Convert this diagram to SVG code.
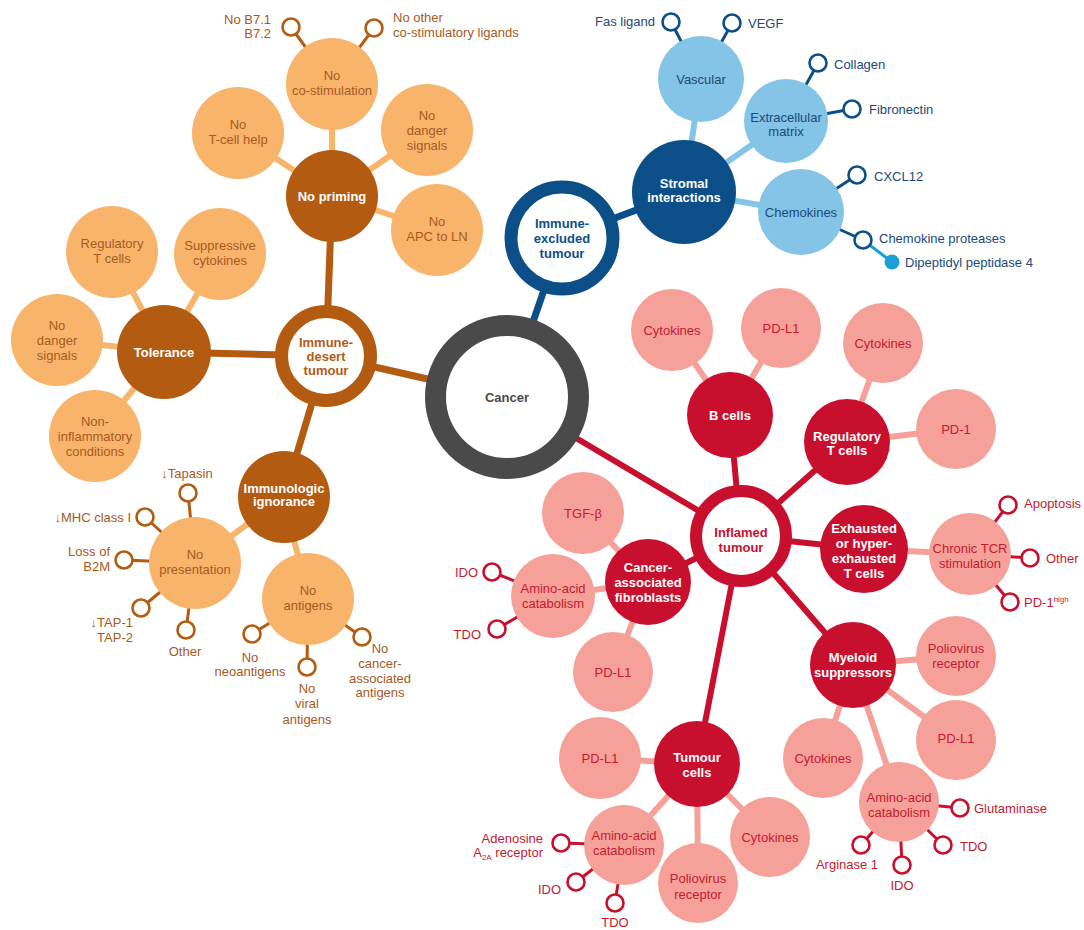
<svg xmlns="http://www.w3.org/2000/svg" width="1084" height="930" viewBox="0 0 1084 930">
<style>
.t{font-family:"Liberation Sans",Arial,sans-serif;font-size:13px;text-anchor:middle}
.b{font-weight:bold}
.s{text-anchor:start}
.e{text-anchor:end}
.tw{fill:#fff}
.to{fill:#a65a1e}
.tb{fill:#1c4a78}
.tr{fill:#c41a30}
.lo{fill:#f9b46c}
.do{fill:#b45b12}
.lb{fill:#84c4e6}
.db{fill:#0c4f88}
.lr{fill:#f5a199}
.dr{fill:#c8102e}
.mo{stroke:#b45b12;stroke-width:7}
.mb{stroke:#0c4f88;stroke-width:7}
.mr{stroke:#c8102e;stroke-width:6}
.so{stroke:#f9b46c;stroke-width:6}
.sb{stroke:#84c4e6;stroke-width:6}
.sr{stroke:#f5a199;stroke-width:6}
.po{stroke:#b45b12;stroke-width:3}
.pb{stroke:#0c4f88;stroke-width:3}
.pr{stroke:#c8102e;stroke-width:3}
.pco{fill:#fff;stroke:#b45b12;stroke-width:2.6}
.pcb{fill:#fff;stroke:#0c4f88;stroke-width:2.6}
.pcr{fill:#fff;stroke:#c8102e;stroke-width:2.6}
</style>

<g id="connectors" fill="none">
  <!-- main -->
  <line class="mo" x1="507" y1="397" x2="326" y2="356"/>
  <line class="mb" x1="507" y1="397" x2="562" y2="238"/>
  <line class="mr" x1="507" y1="397" x2="741" y2="536"/>
  <line class="mo" x1="326" y1="356" x2="332" y2="196"/>
  <line class="mo" x1="326" y1="356" x2="164" y2="352"/>
  <line class="mo" x1="326" y1="356" x2="284" y2="497"/>
  <line class="mb" x1="562" y1="238" x2="684" y2="192"/>
  <line class="mr" x1="741" y1="536" x2="730" y2="415"/>
  <line class="mr" x1="741" y1="536" x2="847" y2="442"/>
  <line class="mr" x1="741" y1="536" x2="864" y2="549"/>
  <line class="mr" x1="741" y1="536" x2="648" y2="582"/>
  <line class="mr" x1="741" y1="536" x2="697" y2="764"/>
  <line class="mr" x1="741" y1="536" x2="853" y2="665"/>
  <!-- secondary orange -->
  <line class="so" x1="332" y1="196" x2="332" y2="84"/>
  <line class="so" x1="332" y1="196" x2="238" y2="133"/>
  <line class="so" x1="332" y1="196" x2="427" y2="130"/>
  <line class="so" x1="332" y1="196" x2="437" y2="230"/>
  <line class="so" x1="164" y1="352" x2="112" y2="252"/>
  <line class="so" x1="164" y1="352" x2="220" y2="254"/>
  <line class="so" x1="164" y1="352" x2="57" y2="340"/>
  <line class="so" x1="164" y1="352" x2="95" y2="436"/>
  <line class="so" x1="284" y1="497" x2="195" y2="563"/>
  <line class="so" x1="284" y1="497" x2="308" y2="599"/>
  <!-- secondary blue -->
  <line class="sb" x1="684" y1="192" x2="701" y2="79"/>
  <line class="sb" x1="684" y1="192" x2="786" y2="121"/>
  <line class="sb" x1="684" y1="192" x2="801" y2="212"/>
  <!-- secondary red -->
  <line class="sr" x1="730" y1="415" x2="672" y2="330"/>
  <line class="sr" x1="730" y1="415" x2="781" y2="328"/>
  <line class="sr" x1="847" y1="442" x2="883" y2="343"/>
  <line class="sr" x1="847" y1="442" x2="956" y2="429"/>
  <line class="sr" x1="864" y1="549" x2="970" y2="554"/>
  <line class="sr" x1="648" y1="582" x2="583" y2="513"/>
  <line class="sr" x1="648" y1="582" x2="553" y2="596"/>
  <line class="sr" x1="648" y1="582" x2="613" y2="672"/>
  <line class="sr" x1="697" y1="764" x2="600" y2="758"/>
  <line class="sr" x1="697" y1="764" x2="624" y2="845"/>
  <line class="sr" x1="697" y1="764" x2="698" y2="883"/>
  <line class="sr" x1="697" y1="764" x2="770" y2="837"/>
  <line class="sr" x1="853" y1="665" x2="956" y2="656"/>
  <line class="sr" x1="853" y1="665" x2="956" y2="740"/>
  <line class="sr" x1="853" y1="665" x2="823" y2="758"/>
  <line class="sr" x1="853" y1="665" x2="899" y2="802"/>
  <!-- pin stems orange -->
  <line class="po" x1="332" y1="84" x2="291" y2="27"/>
  <line class="po" x1="332" y1="84" x2="374" y2="28"/>
  <line class="po" x1="195" y1="563" x2="188" y2="493"/>
  <line class="po" x1="195" y1="563" x2="145" y2="517"/>
  <line class="po" x1="195" y1="563" x2="124" y2="560"/>
  <line class="po" x1="195" y1="563" x2="141" y2="608"/>
  <line class="po" x1="195" y1="563" x2="186" y2="630"/>
  <line class="po" x1="308" y1="599" x2="252" y2="634"/>
  <line class="po" x1="308" y1="599" x2="307" y2="667"/>
  <line class="po" x1="308" y1="599" x2="362" y2="637"/>
  <!-- pin stems blue -->
  <line class="pb" x1="701" y1="79" x2="671" y2="22"/>
  <line class="pb" x1="701" y1="79" x2="732" y2="23"/>
  <line class="pb" x1="786" y1="121" x2="818" y2="63"/>
  <line class="pb" x1="786" y1="121" x2="852" y2="109"/>
  <line class="pb" x1="801" y1="212" x2="857" y2="175"/>
  <line class="pb" x1="801" y1="212" x2="863" y2="240"/>
  <line stroke="#1aa0d8" stroke-width="3" x1="863" y1="240" x2="892" y2="262"/>
  <!-- pin stems red -->
  <line class="pr" x1="970" y1="554" x2="1008" y2="505"/>
  <line class="pr" x1="970" y1="554" x2="1030" y2="558"/>
  <line class="pr" x1="970" y1="554" x2="1010" y2="602"/>
  <line class="pr" x1="553" y1="596" x2="492" y2="572"/>
  <line class="pr" x1="553" y1="596" x2="497" y2="629"/>
  <line class="pr" x1="624" y1="845" x2="561" y2="843"/>
  <line class="pr" x1="624" y1="845" x2="576" y2="882"/>
  <line class="pr" x1="624" y1="845" x2="615" y2="903"/>
  <line class="pr" x1="899" y1="802" x2="960" y2="808"/>
  <line class="pr" x1="899" y1="802" x2="943" y2="845"/>
  <line class="pr" x1="899" y1="802" x2="902" y2="865"/>
  <line class="pr" x1="899" y1="802" x2="861" y2="845"/>
</g>

<!-- Cancer -->
<g id="cancer">
  <circle cx="507" cy="397" r="71.5" fill="#fff" stroke="#4a4a4a" stroke-width="21"/>
  <text class="t b" x="507" y="401.5" fill="#4a4a4a">Cancer</text>
</g>

<!-- ORANGE -->
<g id="immune-desert">
  <circle cx="326" cy="356" r="44.5" fill="#fff" stroke="#b45b12" stroke-width="13"/>
  <text class="t b" fill="#b45b12" x="326" y="346.5">Immune-<tspan x="326" dy="14">desert</tspan><tspan x="326" dy="14">tumour</tspan></text>
</g>
<g id="no-priming">
  <circle class="do" cx="332" cy="196" r="46"/>
  <text class="t b tw" x="332" y="200.5">No priming</text>
</g>
<g id="no-costim">
  <circle class="lo" cx="332" cy="84" r="46"/>
  <text class="t to" x="332" y="80">No<tspan x="332" dy="15">co-stimulation</tspan></text>
</g>
<g id="no-tcell-help">
  <circle class="lo" cx="238" cy="133" r="46"/>
  <text class="t to" x="238" y="129">No<tspan x="238" dy="15">T-cell help</tspan></text>
</g>
<g id="no-danger-1">
  <circle class="lo" cx="427" cy="130" r="46"/>
  <text class="t to" x="427" y="119.5">No<tspan x="427" dy="15">danger</tspan><tspan x="427" dy="15">signals</tspan></text>
</g>
<g id="no-apc">
  <circle class="lo" cx="437" cy="230" r="46"/>
  <text class="t to" x="437" y="226">No<tspan x="437" dy="15">APC to LN</tspan></text>
</g>
<g id="tolerance">
  <circle class="do" cx="164" cy="352" r="47"/>
  <text class="t b tw" x="164" y="356.5">Tolerance</text>
</g>
<g id="regulatory-t-o">
  <circle class="lo" cx="112" cy="252" r="46"/>
  <text class="t to" x="112" y="248">Regulatory<tspan x="112" dy="15">T cells</tspan></text>
</g>
<g id="suppressive">
  <circle class="lo" cx="220" cy="254" r="46"/>
  <text class="t to" x="220" y="250">Suppressive<tspan x="220" dy="15">cytokines</tspan></text>
</g>
<g id="no-danger-2">
  <circle class="lo" cx="57" cy="340" r="46"/>
  <text class="t to" x="57" y="329.5">No<tspan x="57" dy="15">danger</tspan><tspan x="57" dy="15">signals</tspan></text>
</g>
<g id="non-inflammatory">
  <circle class="lo" cx="95" cy="436" r="46"/>
  <text class="t to" x="95" y="425.5">Non-<tspan x="95" dy="15">inflammatory</tspan><tspan x="95" dy="15">conditions</tspan></text>
</g>
<g id="ignorance">
  <circle class="do" cx="284" cy="497" r="46"/>
  <text class="t b tw" x="284" y="493">Immunologic<tspan x="284" dy="13">ignorance</tspan></text>
</g>
<g id="no-presentation">
  <circle class="lo" cx="195" cy="563" r="46"/>
  <text class="t to" x="195" y="559">No<tspan x="195" dy="15">presentation</tspan></text>
</g>
<g id="no-antigens">
  <circle class="lo" cx="308" cy="599" r="46"/>
  <text class="t to" x="308" y="595">No<tspan x="308" dy="15">antigens</tspan></text>
</g>
<g id="orange-pins">
  <circle class="pco" cx="291" cy="27" r="8.5"/>
  <text class="t e to" x="271" y="23.5">No B7.1<tspan x="271" dy="14">B7.2</tspan></text>
  <circle class="pco" cx="374" cy="28" r="8.5"/>
  <text class="t s to" x="393" y="22">No other<tspan x="393" dy="15">co-stimulatory ligands</tspan></text>
  <circle class="pco" cx="188" cy="493" r="8.5"/>
  <text class="t to" x="187" y="477.5">↓Tapasin</text>
  <circle class="pco" cx="145" cy="517" r="8.5"/>
  <text class="t e to" x="131" y="521.5">↓MHC class I</text>
  <circle class="pco" cx="124" cy="560" r="8.5"/>
  <text class="t e to" x="110" y="555.5">Loss of<tspan x="110" dy="15">B2M</tspan></text>
  <circle class="pco" cx="141" cy="608" r="8.5"/>
  <text class="t e to" x="133" y="626.5">↓TAP-1<tspan x="133" dy="15">TAP-2</tspan></text>
  <circle class="pco" cx="186" cy="630" r="8.5"/>
  <text class="t to" x="185" y="655.5">Other</text>
  <circle class="pco" cx="252" cy="634" r="8.5"/>
  <text class="t to" x="250" y="661.5">No<tspan x="250" dy="14">neoantigens</tspan></text>
  <circle class="pco" cx="307" cy="667" r="8.5"/>
  <text class="t to" x="307" y="692.5">No<tspan x="307" dy="15.5">viral</tspan><tspan x="307" dy="15.5">antigens</tspan></text>
  <circle class="pco" cx="362" cy="637" r="8.5"/>
  <text class="t to" x="380" y="652.5">No<tspan x="380" dy="15">cancer-</tspan><tspan x="380" dy="15">associated</tspan><tspan x="380" dy="14.5">antigens</tspan></text>
</g>

<!-- BLUE -->
<g id="immune-excluded">
  <circle cx="562" cy="238" r="51" fill="#fff" stroke="#0c4f88" stroke-width="13"/>
  <text class="t b" fill="#0c4f88" x="562" y="227.5">Immune-<tspan x="562" dy="15">excluded</tspan><tspan x="562" dy="15">tumour</tspan></text>
</g>
<g id="stromal">
  <circle class="db" cx="684" cy="192" r="52"/>
  <text class="t b tw" x="684" y="187.5">Stromal<tspan x="684" dy="14">interactions</tspan></text>
</g>
<g id="vascular">
  <circle class="lb" cx="701" cy="79" r="43"/>
  <text class="t tb" x="701" y="83.5">Vascular</text>
</g>
<g id="ecm">
  <circle class="lb" cx="786" cy="121" r="42"/>
  <text class="t tb" x="786" y="121.5">Extracellular<tspan x="786" dy="14.5">matrix</tspan></text>
</g>
<g id="chemokines">
  <circle class="lb" cx="801" cy="212" r="43"/>
  <text class="t tb" x="801" y="216.5">Chemokines</text>
</g>
<g id="blue-pins">
  <circle class="pcb" cx="671" cy="22" r="8.5"/>
  <text class="t e tb" x="655" y="25.5">Fas ligand</text>
  <circle class="pcb" cx="732" cy="23" r="8.5"/>
  <text class="t s tb" x="748" y="28">VEGF</text>
  <circle class="pcb" cx="818" cy="63" r="8.5"/>
  <text class="t s tb" x="834" y="68.5">Collagen</text>
  <circle class="pcb" cx="852" cy="109" r="8.5"/>
  <text class="t s tb" x="869" y="113.5">Fibronectin</text>
  <circle class="pcb" cx="857" cy="175" r="8.5"/>
  <text class="t s tb" x="874" y="180.5">CXCL12</text>
  <circle class="pcb" cx="863" cy="240" r="8.5"/>
  <text class="t s tb" x="879" y="242.5">Chemokine proteases</text>
  <circle cx="892" cy="262" r="7.5" fill="#1aa0d8"/>
  <text class="t s tb" x="905" y="266.5">Dipeptidyl peptidase 4</text>
</g>

<!-- RED -->
<g id="inflamed">
  <circle cx="741" cy="536" r="45" fill="#fff" stroke="#c8102e" stroke-width="12"/>
  <text class="t b" fill="#c8102e" x="741" y="537">Inflamed<tspan x="741" dy="15">tumour</tspan></text>
</g>
<g id="b-cells">
  <circle class="dr" cx="730" cy="415" r="43"/>
  <text class="t b tw" x="730" y="419.5">B cells</text>
</g>
<g id="b-cytokines">
  <circle class="lr" cx="672" cy="330" r="41"/>
  <text class="t tr" x="672" y="334.5">Cytokines</text>
</g>
<g id="b-pdl1">
  <circle class="lr" cx="781" cy="328" r="40"/>
  <text class="t tr" x="781" y="332.5">PD-L1</text>
</g>
<g id="treg">
  <circle class="dr" cx="847" cy="442" r="43"/>
  <text class="t b tw" x="847" y="440.5">Regulatory<tspan x="847" dy="14">T cells</tspan></text>
</g>
<g id="treg-cytokines">
  <circle class="lr" cx="883" cy="343" r="40"/>
  <text class="t tr" x="883" y="347.5">Cytokines</text>
</g>
<g id="treg-pd1">
  <circle class="lr" cx="956" cy="429" r="40"/>
  <text class="t tr" x="956" y="433.5">PD-1</text>
</g>
<g id="exhausted">
  <circle class="dr" cx="864" cy="549" r="44"/>
  <text class="t b tw" x="864" y="532.5">Exhausted<tspan x="864" dy="15">or hyper-</tspan><tspan x="864" dy="15">exhausted</tspan><tspan x="864" dy="15">T cells</tspan></text>
</g>
<g id="chronic-tcr">
  <circle class="lr" cx="970" cy="554" r="41"/>
  <text class="t tr" x="970" y="552.5">Chronic TCR<tspan x="970" dy="15.5">stimulation</tspan></text>
</g>
<g id="caf">
  <circle class="dr" cx="648" cy="582" r="43"/>
  <text class="t b tw" x="648" y="571.5">Cancer-<tspan x="648" dy="15">associated</tspan><tspan x="648" dy="15">fibroblasts</tspan></text>
</g>
<g id="tgfb">
  <circle class="lr" cx="583" cy="513" r="41"/>
  <text class="t tr" x="583" y="517.5">TGF-β</text>
</g>
<g id="caf-amino">
  <circle class="lr" cx="553" cy="596" r="42"/>
  <text class="t tr" x="553" y="592.5">Amino-acid<tspan x="553" dy="15">catabolism</tspan></text>
</g>
<g id="caf-pdl1">
  <circle class="lr" cx="613" cy="672" r="40"/>
  <text class="t tr" x="613" y="676.5">PD-L1</text>
</g>
<g id="myeloid">
  <circle class="dr" cx="853" cy="665" r="43"/>
  <text class="t b tw" x="853" y="661.5">Myeloid<tspan x="853" dy="15.5">suppressors</tspan></text>
</g>
<g id="my-polio">
  <circle class="lr" cx="956" cy="656" r="40"/>
  <text class="t tr" x="956" y="652.5">Poliovirus<tspan x="956" dy="15">receptor</tspan></text>
</g>
<g id="my-pdl1">
  <circle class="lr" cx="956" cy="740" r="40"/>
  <text class="t tr" x="956" y="742.5">PD-L1</text>
</g>
<g id="my-cytokines">
  <circle class="lr" cx="823" cy="758" r="40"/>
  <text class="t tr" x="823" y="762.5">Cytokines</text>
</g>
<g id="my-amino">
  <circle class="lr" cx="899" cy="802" r="40"/>
  <text class="t tr" x="899" y="801.5">Amino-acid<tspan x="899" dy="15">catabolism</tspan></text>
</g>
<g id="tumour-cells">
  <circle class="dr" cx="697" cy="764" r="43"/>
  <text class="t b tw" x="697" y="761.5">Tumour<tspan x="697" dy="15">cells</tspan></text>
</g>
<g id="tu-pdl1">
  <circle class="lr" cx="600" cy="758" r="41"/>
  <text class="t tr" x="600" y="762.5">PD-L1</text>
</g>
<g id="tu-amino">
  <circle class="lr" cx="624" cy="845" r="40"/>
  <text class="t tr" x="624" y="839.5">Amino-acid<tspan x="624" dy="15">catabolism</tspan></text>
</g>
<g id="tu-polio">
  <circle class="lr" cx="698" cy="883" r="40"/>
  <text class="t tr" x="698" y="882.5">Poliovirus<tspan x="698" dy="16">receptor</tspan></text>
</g>
<g id="tu-cytokines">
  <circle class="lr" cx="770" cy="837" r="40"/>
  <text class="t tr" x="770" y="841.5">Cytokines</text>
</g>
<g id="red-pins">
  <circle class="pcr" cx="1008" cy="505" r="8.5"/>
  <text class="t s tr" x="1024" y="507.5">Apoptosis</text>
  <circle class="pcr" cx="1030" cy="558" r="8.5"/>
  <text class="t s tr" x="1046" y="562.5">Other</text>
  <circle class="pcr" cx="1010" cy="602" r="8.5"/>
  <text class="t s tr" x="1024" y="607">PD-1<tspan font-size="8" dy="-5">high</tspan></text>
  <circle class="pcr" cx="492" cy="572" r="8.5"/>
  <text class="t e tr" x="478" y="576.5">IDO</text>
  <circle class="pcr" cx="497" cy="629" r="8.5"/>
  <text class="t e tr" x="481" y="638.5">TDO</text>
  <circle class="pcr" cx="561" cy="843" r="8.5"/>
  <text class="t e tr" x="543" y="842.5">Adenosine<tspan x="543" dy="14">A<tspan font-size="8" dy="3">2A</tspan><tspan dy="-3"> receptor</tspan></tspan></text>
  <circle class="pcr" cx="576" cy="882" r="8.5"/>
  <text class="t e tr" x="561" y="893.5">IDO</text>
  <circle class="pcr" cx="615" cy="903" r="8.5"/>
  <text class="t tr" x="615" y="927">TDO</text>
  <circle class="pcr" cx="960" cy="808" r="8.5"/>
  <text class="t s tr" x="974" y="812.5">Glutaminase</text>
  <circle class="pcr" cx="943" cy="845" r="8.5"/>
  <text class="t s tr" x="960" y="850.5">TDO</text>
  <circle class="pcr" cx="902" cy="865" r="8.5"/>
  <text class="t tr" x="902" y="889.5">IDO</text>
  <circle class="pcr" cx="861" cy="845" r="8.5"/>
  <text class="t tr" x="847" y="868.5">Arginase 1</text>
</g>
</svg>
